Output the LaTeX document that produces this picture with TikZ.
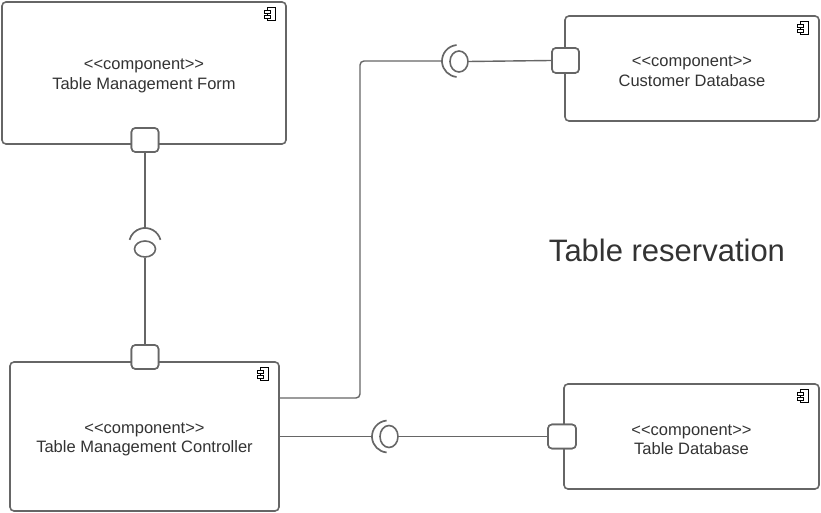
\documentclass[tikz,border=0pt]{standalone}
\usepackage{fontspec}
\setmainfont{Liberation Sans}
\usetikzlibrary{shapes.geometric,calc}
\definecolor{lc}{HTML}{666666}
\definecolor{tc}{HTML}{333333}
\newcommand{\stereo}{<\kern0pt<component>\kern0pt>}
\tikzset{
  comp/.style={draw=lc, line width=1.6pt, rounded corners=4pt, fill=white, inner sep=0pt},
  comptext/.style={align=center, text=tc, font=\fontsize{16.5}{19.5}\selectfont, inner sep=0pt},
  port/.style={draw=lc, line width=1.6pt, rounded corners=4pt, fill=white,
    minimum width=27pt, minimum height=24pt, inner sep=0pt},
  ball/.style={draw=lc, line width=1.6pt, ellipse, fill=white, inner sep=0pt},
  conn/.style={draw=lc, line width=1.4pt},
  sock/.style={draw=lc, line width=1.7pt},
}
\newcommand{\compicon}[1]{%
  \draw[line width=0.8pt, fill=white] ($(#1.north east)+(-19,-6)$) rectangle ($(#1.north east)+(-11,-19)$);
  \draw[line width=0.8pt, fill=white] ($(#1.north east)+(-22,-9)$) rectangle ($(#1.north east)+(-16,-12)$);
  \draw[line width=0.8pt, fill=white] ($(#1.north east)+(-22,-14)$) rectangle ($(#1.north east)+(-16,-17)$);
}
\begin{document}
\begin{tikzpicture}[x=1pt,y=1pt]
\useasboundingbox (0,0) rectangle (821,513);
% components
\node[comp, minimum width=284pt, minimum height=142pt] (form) at (144,440) {};
\node[comp, minimum width=269pt, minimum height=149pt] (ctrl) at (144.5,76.5) {};
\node[comp, minimum width=254pt, minimum height=105pt] (cust) at (692,444.5) {};
\node[comp, minimum width=255pt, minimum height=105pt] (tdb) at (691.5,76.5) {};
\node[comptext] (formt) at ($(form.center)+(0,-3)$) {\stereo\\Table Management Form};
\node[comptext] (ctrlt) at ($(ctrl.center)+(0,-3)$) {\stereo\\Table Management Controller};
\node[comptext] (custt) at ($(cust.center)+(0,-3)$) {\stereo\\Customer Database};
\node[comptext] (tdbt) at ($(tdb.center)+(0,-3)$) {\stereo\\Table Database};
\compicon{form}
\compicon{ctrl}
\compicon{cust}
\compicon{tdb}
% title
\node[text=tc, font=\fontsize{31}{36}\selectfont] (title) at (667,263) {Table reservation};
% interfaces
\coordinate (s1) at (145,269);
\coordinate (s1top) at (145,285);
\node[ball, minimum width=21pt, minimum height=16pt] (b1) at (145,264) {};
\coordinate (s2) at (458,452);
\coordinate (s2left) at (442,452);
\node[ball, minimum width=18pt, minimum height=21pt] (b2) at (459,451.5) {};
\coordinate (s3) at (388,76.5);
\coordinate (s3left) at (372,76.5);
\node[ball, minimum width=18pt, minimum height=22pt] (b3) at (389,76.5) {};
% ports
\node[port] (p1) at (145,373) {};
\node[port] (p2) at (145,156) {};
\node[port, minimum height=25pt] (p3) at (565.5,452.5) {};
\node[port, minimum width=28pt] (p4) at (562,76.5) {};
% connectors
\draw[conn] (s1top) -- (p1.south);
\draw[conn] (b1.south) -- (p2.north);
\draw[conn, rounded corners=4pt] ($(ctrl.east)+(0,38.5)$) -- (360,115) -- (360,452) -- (s2left);
\draw[conn] (b2.east) -- (p3.west);
\draw[conn] (ctrl.east) -- (s3left);
\draw[conn] (b3.east) -- (p4.west);
% sockets
\draw[sock] (s1) ++(15:16) arc[start angle=15, end angle=165, radius=16];
\draw[sock] (s2) ++(95:16) arc[start angle=95, end angle=265, radius=16];
\draw[sock] (s3) ++(95:16) arc[start angle=95, end angle=265, radius=16];
% redraw ports on top
\node[port] at (p1) {};
\node[port] at (p2) {};
\node[port, minimum height=25pt] at (p3) {};
\node[port, minimum width=28pt] at (p4) {};
\end{tikzpicture}
\end{document}
